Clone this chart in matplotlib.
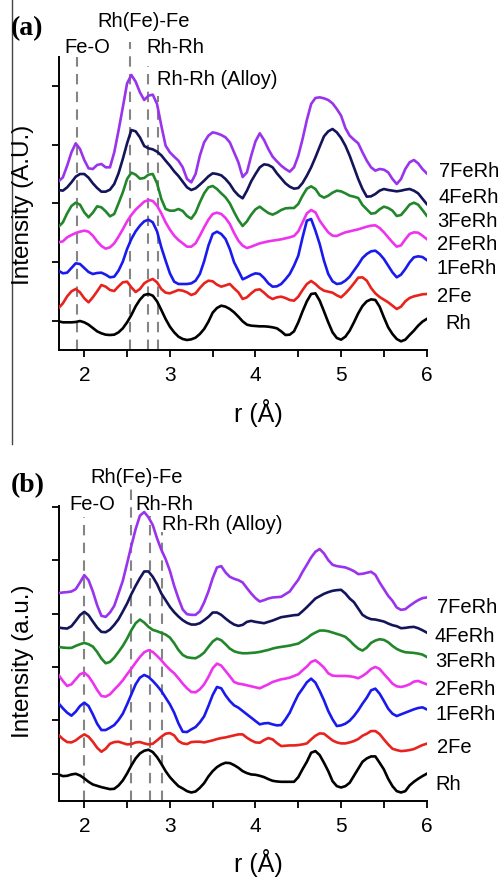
import numpy as np
import matplotlib
matplotlib.use("Agg")
import matplotlib.pyplot as plt
from matplotlib.lines import Line2D

plt.rcParams['font.family'] = ['Liberation Sans', 'DejaVu Sans']

# ---------------- data (r in Angstrom, intensity in arbitrary units incl. vertical offsets) ----
r = [1.70, 1.75, 1.80, 1.85, 1.90, 1.95, 2.00, 2.05, 2.10, 2.15, 2.20, 2.25, 2.30, 2.35, 2.40,
     2.45, 2.50, 2.55, 2.60, 2.65, 2.70, 2.75, 2.80, 2.85, 2.90, 2.95, 3.00, 3.05, 3.10, 3.15,
     3.20, 3.25, 3.30, 3.35, 3.40, 3.45, 3.50, 3.55, 3.60, 3.65, 3.70, 3.75, 3.80, 3.85, 3.90,
     3.95, 4.00, 4.05, 4.10, 4.15, 4.20, 4.25, 4.30, 4.35, 4.40, 4.45, 4.50, 4.55, 4.60, 4.65,
     4.70, 4.75, 4.80, 4.85, 4.90, 4.95, 5.00, 5.05, 5.10, 5.15, 5.20, 5.25, 5.30, 5.35, 5.40,
     5.45, 5.50, 5.55, 5.60, 5.65, 5.70, 5.75, 5.80, 5.85, 5.90, 5.95, 6.00]

samples = ["7FeRh", "4FeRh", "3FeRh", "2FeRh", "1FeRh", "2Fe", "Rh"]

# panel (a)
a_7FeRh = [506, 518, 553, 593, 620, 603, 570, 545, 543, 555, 558, 548, 548, 593, 658, 728, 800, 825, 805, 773,
           750, 763, 766, 738, 673, 613, 593, 580, 568, 548, 513, 503, 528, 583, 623, 643, 653, 650, 645, 638,
           623, 593, 563, 519, 533, 583, 626, 650, 630, 603, 580, 566, 553, 543, 535, 548, 583, 633, 690, 738,
           756, 758, 755, 750, 740, 723, 703, 666, 643, 631, 620, 593, 568, 548, 538, 543, 541, 533, 513, 498,
           513, 543, 563, 570, 560, 543, 530]
a_4FeRh = [480, 478, 488, 503, 520, 528, 528, 517, 500, 486, 475, 475, 481, 498, 530, 573, 620, 660, 656, 638,
           612, 605, 602, 595, 584, 568, 553, 536, 522, 505, 488, 480, 485, 496, 508, 521, 530, 528, 524, 513,
           498, 478, 464, 455, 478, 506, 528, 548, 557, 555, 548, 530, 515, 500, 490, 484, 486, 501, 523, 548,
           578, 610, 641, 656, 663, 653, 636, 613, 583, 548, 513, 483, 460, 461, 468, 478, 483, 480, 478, 476,
           478, 481, 483, 478, 470, 454, 438]
a_3FeRh = [370, 383, 410, 432, 442, 436, 413, 398, 412, 431, 428, 416, 401, 408, 440, 473, 513, 532, 526, 514,
           516, 526, 528, 500, 453, 423, 418, 418, 423, 417, 402, 394, 412, 443, 470, 488, 492, 483, 470, 458,
           440, 414, 390, 372, 386, 406, 422, 430, 420, 411, 406, 412, 420, 425, 426, 426, 438, 463, 484, 491,
           483, 464, 457, 463, 472, 478, 476, 470, 463, 460, 456, 435, 422, 409, 411, 422, 430, 426, 418, 402,
           405, 420, 436, 442, 436, 420, 403]
a_2FeRh = [323, 326, 338, 345, 351, 355, 358, 355, 343, 326, 312, 304, 308, 320, 340, 362, 386, 405, 421, 433,
           445, 450, 447, 433, 410, 383, 361, 343, 330, 320, 310, 310, 320, 343, 368, 391, 408, 412, 408, 396,
           378, 351, 328, 313, 306, 310, 315, 320, 323, 326, 328, 330, 332, 335, 338, 342, 356, 383, 410, 420,
           413, 388, 370, 353, 343, 342, 348, 353, 356, 359, 362, 366, 370, 373, 374, 366, 353, 338, 323, 310,
           314, 332, 348, 353, 352, 343, 333]
a_1FeRh = [238, 230, 232, 246, 260, 258, 246, 234, 228, 231, 232, 226, 218, 220, 238, 265, 303, 333, 356, 373,
           386, 391, 383, 356, 308, 268, 230, 205, 198, 198, 198, 200, 208, 228, 266, 313, 348, 355, 348, 333,
           303, 263, 238, 212, 218, 225, 230, 228, 216, 200, 190, 191, 198, 212, 228, 253, 283, 338, 388, 393,
           358, 318, 268, 228, 206, 198, 200, 208, 220, 238, 256, 276, 288, 296, 298, 288, 273, 253, 233, 218,
           226, 243, 263, 278, 281, 279, 270]
a_2Fe = [126, 140, 161, 176, 183, 173, 155, 143, 158, 176, 195, 190, 180, 177, 191, 203, 205, 188, 174, 183,
         200, 208, 213, 203, 183, 172, 170, 175, 180, 178, 173, 165, 170, 186, 200, 208, 206, 196, 190, 194,
         198, 185, 173, 153, 158, 170, 180, 182, 172, 160, 153, 158, 160, 156, 150, 148, 160, 180, 198, 207,
         198, 186, 178, 175, 172, 164, 158, 170, 184, 200, 217, 218, 208, 186, 170, 159, 151, 143, 133, 123,
         130, 146, 156, 161, 164, 167, 168]
a_Rh = [86, 83, 83, 83, 84, 87, 83, 76, 66, 56, 50, 46, 45, 46, 53, 65, 83, 105, 131, 151,
        165, 168, 163, 146, 120, 93, 70, 53, 40, 33, 30, 32, 37, 48, 63, 85, 112, 126, 133, 130,
        123, 113, 100, 86, 76, 73, 72, 71, 71, 70, 68, 65, 56, 45, 46, 56, 83, 116, 146, 168,
        170, 148, 116, 83, 53, 36, 31, 40, 58, 83, 110, 132, 146, 152, 150, 130, 98, 68, 48, 33,
        26, 31, 45, 58, 73, 85, 93]

# panel (b)
b_7FeRh = [621, 623, 624, 626, 633, 653, 675, 660, 626, 585, 553, 550, 563, 583, 620, 658, 710, 763, 813, 853,
           864, 848, 825, 785, 751, 723, 688, 643, 605, 572, 558, 556, 556, 567, 593, 626, 666, 698, 702, 683,
           670, 664, 660, 653, 636, 620, 606, 596, 600, 605, 608, 609, 610, 618, 626, 644, 661, 685, 706, 728,
           745, 753, 740, 720, 706, 702, 700, 698, 693, 687, 678, 679, 682, 685, 676, 653, 633, 613, 598, 578,
           571, 573, 583, 592, 600, 606, 608]
b_4FeRh = [518, 516, 515, 522, 538, 555, 565, 555, 536, 518, 505, 504, 512, 526, 543, 566, 590, 618, 643, 666,
           686, 686, 670, 648, 620, 600, 580, 564, 551, 540, 532, 527, 527, 531, 540, 550, 563, 563, 556, 545,
           535, 527, 523, 526, 535, 538, 535, 533, 531, 535, 539, 544, 549, 551, 553, 555, 556, 567, 579, 592,
           605, 612, 619, 624, 628, 630, 631, 620, 605, 594, 575, 556, 548, 543, 542, 539, 536, 530, 525, 522,
           516, 517, 519, 520, 516, 510, 503]
b_3FeRh = [460, 458, 457, 457, 463, 468, 472, 468, 461, 445, 425, 411, 415, 428, 445, 463, 485, 510, 531, 542,
           533, 520, 511, 507, 502, 497, 488, 471, 451, 436, 429, 427, 426, 433, 443, 460, 476, 485, 480, 468,
           455, 447, 443, 441, 441, 442, 443, 445, 448, 451, 455, 458, 460, 462, 464, 467, 470, 478, 486, 496,
           503, 509, 509, 507, 503, 499, 495, 490, 479, 466, 455, 449, 458, 472, 479, 483, 481, 474, 463, 454,
           448, 444, 443, 442, 440, 437, 430]
b_2FeRh = [376, 358, 343, 348, 363, 378, 383, 372, 353, 331, 313, 311, 318, 332, 345, 360, 378, 395, 413, 430,
           444, 450, 445, 433, 420, 405, 392, 381, 366, 350, 336, 325, 324, 333, 348, 370, 396, 410, 404, 388,
           372, 355, 350, 348, 345, 342, 339, 336, 342, 348, 355, 359, 363, 365, 368, 373, 378, 390, 401, 415,
           420, 410, 398, 381, 374, 373, 373, 373, 372, 370, 366, 373, 382, 394, 400, 394, 379, 365, 350, 342,
           340, 343, 348, 356, 358, 353, 348]
b_1FeRh = [291, 276, 263, 254, 266, 283, 293, 283, 258, 230, 211, 211, 218, 226, 241, 260, 288, 318, 348, 368,
           376, 370, 358, 344, 328, 308, 288, 263, 231, 206, 205, 213, 220, 234, 252, 283, 316, 340, 336, 315,
           298, 285, 278, 268, 258, 248, 238, 228, 231, 232, 228, 225, 226, 243, 263, 291, 317, 335, 354, 365,
           353, 328, 300, 268, 243, 223, 225, 230, 239, 253, 270, 290, 308, 330, 335, 320, 298, 275, 260, 253,
           258, 263, 268, 273, 277, 279, 273]
b_2Fe = [196, 184, 175, 174, 180, 190, 198, 191, 176, 158, 146, 155, 170, 175, 176, 172, 168, 169, 174, 175,
         171, 168, 170, 180, 191, 200, 202, 195, 178, 171, 169, 175, 176, 176, 174, 177, 180, 184, 187, 189,
         192, 195, 198, 198, 188, 180, 174, 173, 181, 187, 183, 172, 163, 164, 165, 165, 166, 168, 171, 183,
         194, 201, 200, 190, 180, 174, 171, 171, 174, 178, 184, 194, 200, 208, 208, 199, 183, 168, 155, 151,
         148, 149, 151, 154, 160, 166, 170]
b_Rh = [78, 73, 74, 78, 80, 75, 66, 56, 48, 44, 40, 37, 34, 35, 45, 60, 81, 105, 126, 141,
        149, 152, 145, 130, 110, 88, 70, 56, 43, 36, 28, 24, 27, 38, 52, 72, 88, 100, 108, 113,
        112, 106, 98, 88, 82, 78, 77, 74, 70, 64, 59, 57, 56, 56, 56, 56, 70, 94, 116, 143,
        148, 136, 113, 88, 58, 43, 39, 43, 53, 74, 95, 116, 126, 132, 132, 113, 93, 65, 43, 28,
        24, 28, 45, 56, 65, 73, 80]

# bond-distance markers (r positions) and their labels
bonds_a = [1.91, 2.534, 2.74, 2.865]
bonds_b = [2.00, 2.546, 2.768, 2.904]
bond_names = ["Fe-O", "Rh(Fe)-Fe", "Rh-Rh", "Rh-Rh (Alloy)"]

series_a = [a_7FeRh, a_4FeRh, a_3FeRh, a_2FeRh, a_1FeRh, a_2Fe, a_Rh]
series_b = [b_7FeRh, b_4FeRh, b_3FeRh, b_2FeRh, b_1FeRh, b_2Fe, b_Rh]

# ---------------- style ----------------
colors = ["#9933ee", "#14145a", "#22862a", "#ee33ee", "#1a1aee", "#e8231e", "#000000"]
W, H = 502, 878
fig = plt.figure(figsize=(W / 100, H / 100), dpi=100)


def fx(px):
    return px / W


def fy(py):
    return 1 - py / H


def make_axes(top, bottom, ylim, yticks):
    ax = fig.add_axes([fx(58.6), fy(bottom), fx(426.7) - fx(58.6), (bottom - top) / H])
    ax.set_xlim(1.7, 6.0)
    ax.set_ylim(*ylim)
    ax.set_xticks([2, 3, 4, 5, 6])
    ax.set_xticks([2.5, 3.5, 4.5, 5.5], minor=True)
    ax.set_yticks(yticks)
    ax.set_yticklabels([])
    for s in ["top", "right"]:
        ax.spines[s].set_visible(False)
    for s in ["left", "bottom"]:
        ax.spines[s].set_linewidth(1.4)
    ax.tick_params(axis="both", which="both", direction="out", length=5, width=1.3,
                   labelsize=15, pad=6)
    ax.patch.set_alpha(0)
    return ax


ax_a = make_axes(58, 351, (0, 879), [88, 264, 440, 615, 791])
ax_b = make_axes(507, 801.5, (0, 882), [80, 240, 400, 560, 720, 880])

dash_tops_a = [879, 924, 852, 762]
dash_tops_b = [849, 954, 852, 804]

for ax, bonds, tops, series in [(ax_a, bonds_a, dash_tops_a, series_a),
                                (ax_b, bonds_b, dash_tops_b, series_b)]:
    for xb, top in zip(bonds, tops):
        ax.plot([xb, xb], [0, top], color="#858585", lw=1.5, ls=(0, (5, 3.5)),
                zorder=1, clip_on=False)
    for y, c in zip(series, colors):
        ax.plot(r, y, color=c, lw=1.9, zorder=3, solid_joinstyle="round")

# sample labels on the right
lab_a = [(439, 176.7), (439, 203.3), (437, 226.7), (437, 250), (437, 274), (437, 301.7), (445, 329.3)]
lab_b = [(437, 613.3), (435, 641.7), (435, 666.7), (435, 695), (436, 720), (437, 753.3), (435, 790)]
for labs in (lab_a, lab_b):
    for name, (px, py) in zip(samples, labs):
        fig.text(fx(px), fy(py), name, fontsize=14.5, ha="left", va="baseline")

# bond annotations
ann_a = [(87, 52.7), (143.5, 26.7), (175, 52.7), (217.5, 85)]
ann_b = [(92, 510), (136.7, 483.3), (164.5, 510), (222, 530)]
for anns in (ann_a, ann_b):
    for name, (px, py) in zip(bond_names, anns):
        fig.text(fx(px), fy(py), name, fontsize=14.5, ha="center", va="baseline")

# panel letters
fig.text(fx(11), fy(35), "(a)", fontsize=20, fontweight="bold", family="Liberation Serif",
         ha="left", va="baseline")
fig.text(fx(11), fy(491.7), "(b)", fontsize=20, fontweight="bold", family="Liberation Serif",
         ha="left", va="baseline")

# axis labels
fig.text(fx(258), fy(421.7), "r (Å)", fontsize=18, ha="center", va="baseline")
fig.text(fx(258), fy(871.7), "r (Å)", fontsize=18, ha="center", va="baseline")
fig.text(fx(23), fy(205), "Intensity (A.U.)", fontsize=17.5, rotation=90, ha="center", va="center")
fig.text(fx(23), fy(661), "Intensity (a.u.)", fontsize=17.5, rotation=90, ha="center", va="center")

# thin frame line at the left of panel (a)
fig.add_artist(Line2D([fx(12.5), fx(12.5)], [fy(0), fy(445)], color="#444444", lw=1.0))

fig.savefig("out.png", dpi=100)
